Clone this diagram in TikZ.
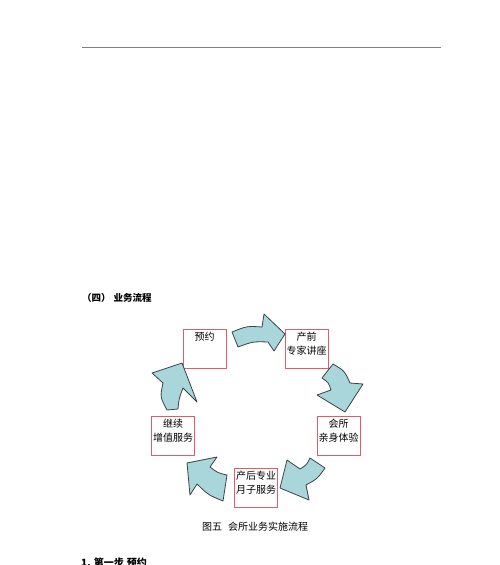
\documentclass[tikz,border=0pt]{standalone}
\usepackage{fontspec}
\usepackage{xcolor}
\setmainfont{Noto Sans CJK SC}
\usetikzlibrary{positioning}
\definecolor{boxred}{RGB}{226,92,104}
\definecolor{arrowfill}{RGB}{168,214,218}
\definecolor{arrowline}{RGB}{58,68,70}

\begin{document}
\begin{tikzpicture}[x=1pt, y=-1pt,
    box/.style={draw=boxred, line width=0.8pt, fill=white, minimum width=43pt, minimum height=39pt, inner sep=0pt},
    boxtext/.style={font=\fontsize{10}{14}\selectfont, align=center, inner sep=0pt},
    flowarrow/.style={draw=arrowline, fill=arrowfill, line width=0.8pt, line join=round}]
                \useasboundingbox (0,0) rectangle (500,565);

                % Header rule
                \coordinate (ruleL) at (82,47);
                \coordinate (ruleR) at (441,47);
                \draw[gray, line width=0.9pt] (ruleL) -- (ruleR);

                % Heading
                \node[anchor=west, inner sep=0pt, font=\fontsize{9.5}{11}\selectfont\bfseries] (head) at (82,298) {（四）\hspace{0.3em}业务流程};

                % Nodes
                \node[box] (yuyue) at (204.5,348.5) {};    % Step 1
                \node[box] (chanqian) at (306.5,348.5) {}; % Step 2
                \node[box] (huisuo) at (338.5,436) {};     % Step 3
                \node[box] (chanhou) at (256,487.5) {};    % Step 4
                \node[box] (jixu) at (173,436) {};         % Step 5

                \node[boxtext, below=3pt of yuyue.north] {预约};
                \node[boxtext, below=3pt of chanqian.north] {产前\\专家讲座};
                \node[boxtext, below=3pt of huisuo.north] {会所\\亲身体验};
                \node[boxtext, below=3pt of chanhou.north] {产后专业\\月子服务};
                \node[boxtext, below=3pt of jixu.north] {继续\\增值服务};

                % Curved block arrows
                \draw[flowarrow] (232,332) .. controls (247,326) .. (262,327) -- (264,314) -- (285,334) -- (274,351) -- (268,342) .. controls (253,341.5) .. (238,347) -- cycle;
                \draw[flowarrow] (333,364) .. controls (344.5,370.8) .. (350,383) -- (363,384) -- (345,412) -- (317,395) -- (331,390) .. controls (328.5,382.5) .. (322,378) -- cycle;
                \draw[flowarrow] (325,468) .. controls (317.5,478.7) .. (306,485) -- (309,500) -- (280,488) -- (287,460) -- (300,469) .. controls (306.5,465) .. (310,458) -- cycle;
                \draw[flowarrow] (223,501) .. controls (208.4,495) .. (197,484) -- (190,495) -- (187,463) -- (217,457) -- (210,467) .. controls (217.6,472.8) .. (227,475) -- cycle;
                \draw[flowarrow] (167,410) .. controls (160,397) .. (163,383) -- (152,373) -- (182,363) -- (197,402) -- (183,388) .. controls (179,398.5) .. (178,409) -- cycle;

                % Caption and next section
                \node[inner sep=0pt, font=\fontsize{10}{12}\selectfont] (caption) at (255,527) {图五\hspace{0.6em}会所业务实施流程};
                \node[anchor=north west, inner sep=0pt, font=\fontsize{10}{12}\selectfont\bfseries] (step) at (81,558) {1.\hspace{0.3em}第一步\hspace{0.3em}预约};
\end{tikzpicture}
\end{document}
